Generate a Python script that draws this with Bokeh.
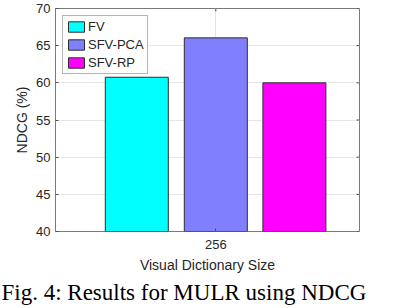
import numpy as np
from bokeh.plotting import figure
from bokeh.models import Range1d, FixedTicker, Legend, LegendItem, Title
from bokeh.embed import file_html
from bokeh.resources import INLINE

# ---- data ----
methods = ["FV", "SFV-PCA", "SFV-RP"]
ndcg = [60.75, 66.05, 60.0]
colors = ["#00FFFF", "#8080FF", "#FF00FF"]
group_labels = ["256"]
y_ticks = [40, 45, 50, 55, 60, 65, 70]
x_label = "Visual Dictionary Size"
y_label = "NDCG (%)"
caption = "Fig. 4: Results for MULR using NDCG"

# ---- layout ----
W, H = 394, 308
FL, FR, FT, FB = 55, 35, 8, 77
fw = W - FL - FR
fh = H - FT - FB
group_x = 1
x0 = group_x - 160.3 / fw
x1 = x0 + 1
y0, y1 = y_ticks[0], y_ticks[-1]

TXT = "#262626"
AX = "#7a7a7a"
TICK = "#505050"
FONT = "Liberation Sans"

p = figure(width=W, height=H, output_backend="svg", toolbar_location=None,
           x_range=Range1d(x0, x1), y_range=Range1d(y0, y1),
           min_border_left=FL, min_border_right=FR,
           min_border_top=FT, min_border_bottom=FB)
p.outline_line_color = AX
p.outline_line_width = 1
p.background_fill_color = "white"

# grids
p.ygrid.ticker = FixedTicker(ticks=y_ticks)
p.xgrid.ticker = FixedTicker(ticks=[group_x])
p.grid.grid_line_color = "#e6e6e6"
p.grid.grid_line_width = 1

offsets = [-79 / fw, 0, 78.6 / fw]
bw = 63 / fw
items = []
for m, v, c, o in zip(methods, ndcg, colors, offsets):
    r = p.vbar(x=[group_x + o], top=[v], bottom=y0, width=bw,
               fill_color=c, line_color="#2e2e2e", line_width=1)
    items.append(LegendItem(label=m, renderers=[r]))

# inward ticks on the right and top edges (box on)
p.ray(x=[x1] * len(y_ticks), y=y_ticks, length=3, length_units="screen",
      angle=np.pi, line_color=TICK, line_width=1)
p.ray(x=[group_x], y=[y1], length=3, length_units="screen",
      angle=-np.pi / 2, line_color=TICK, line_width=1)

legend = Legend(items=items, location="top_left", margin=7,
                border_line_color="#6a6a6a", border_line_width=1,
                background_fill_color="white", background_fill_alpha=1,
                padding=3, spacing=3, glyph_width=20, glyph_height=13,
                label_height=14, label_standoff=2,
                label_text_font=FONT, label_text_font_size="13px",
                label_text_color=TXT)
p.add_layout(legend)

def style_axis(ax):
    ax.axis_line_color = None
    ax.major_tick_in = 3
    ax.major_tick_out = 0
    ax.major_tick_line_color = TICK
    ax.minor_tick_line_color = None
    ax.major_label_text_font = FONT
    ax.major_label_text_font_size = "13px"
    ax.major_label_text_color = TXT
    ax.axis_label_text_font = FONT
    ax.axis_label_text_font_size = "14px"
    ax.axis_label_text_font_style = "normal"
    ax.axis_label_text_color = TXT

xa = p.xaxis[0]
style_axis(xa)
xa.ticker = FixedTicker(ticks=[group_x])
xa.major_label_overrides = {group_x: group_labels[0]}
xa.major_label_standoff = 8
xa.axis_label = x_label
xa.axis_label_standoff = 5

ya = p.yaxis[0]
style_axis(ya)
ya.ticker = FixedTicker(ticks=y_ticks)
ya.major_label_standoff = 5
ya.axis_label = y_label
ya.axis_label_standoff = 3

# caption below the chart
cap = Title(text=caption, align="left", offset=-(FL - 1), standoff=4,
            text_font="Liberation Serif", text_font_size="23px",
            text_font_style="normal", text_color="#000000")
p.add_layout(cap, "below")

open("out.html", "w").write(file_html(p, INLINE))
